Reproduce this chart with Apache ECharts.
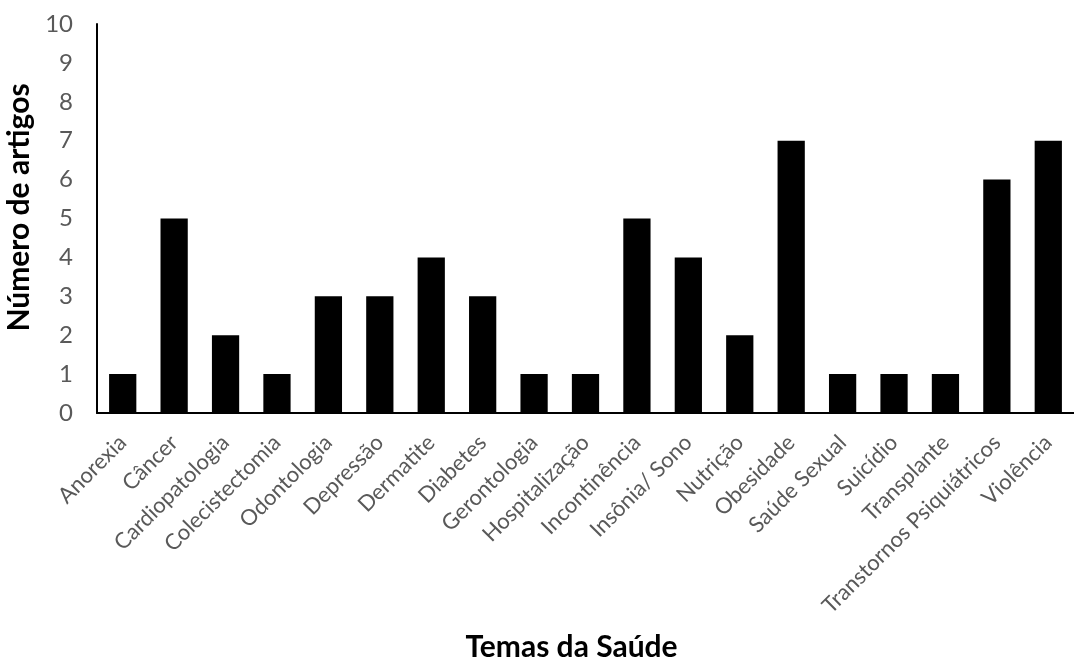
<!DOCTYPE html>
<html><head><meta charset="utf-8">
<script src="https://cdn.jsdelivr.net/npm/echarts@6/dist/echarts.min.js"></script>
<style>html,body{margin:0;padding:0;background:#fff;overflow:hidden}#c{width:1074px;height:660px}</style>
</head><body><div id="c"></div>
<script>
const categories = ["Anorexia","Câncer","Cardiopatologia","Colecistectomia","Odontologia","Depressão","Dermatite","Diabetes","Gerontologia","Hospitalização","Incontinência","Insônia/ Sono","Nutrição","Obesidade","Saúde Sexual","Suicídio","Transplante","Transtornos Psiquiátricos","Violência"];
const values = [1,5,2,1,3,3,4,3,1,1,5,4,2,7,1,1,1,6,7];
const yTicks = [0,1,2,3,4,5,6,7,8,9,10];
const FONT = "Lato, 'Open Sans', sans-serif";
const chart = echarts.init(document.getElementById('c'), null, {renderer:'canvas'});
chart.setOption({
  animation:false,
  grid:{left:97,right:0,top:24,bottom:247,containLabel:false,outerBoundsMode:'none'},
  xAxis:{type:'category',data:categories,
    axisLine:{lineStyle:{color:'#000',width:2}},
    axisTick:{show:false},
    axisLabel:{rotate:45,color:'#595959',fontSize:22,fontFamily:FONT,margin:26,interval:0},
    name:'Temas da Saúde',nameLocation:'middle',nameGap:219,
    nameTextStyle:{fontSize:30,fontWeight:'bold',color:'#000',fontFamily:FONT,padding:[0,28,0,0]}
  },
  yAxis:{type:'value',min:yTicks[0],max:yTicks[yTicks.length-1],interval:1,
    axisLine:{show:true,lineStyle:{color:'#000',width:2}},
    axisTick:{show:false},splitLine:{show:false},
    axisLabel:{color:'#595959',fontSize:24,fontFamily:FONT,margin:24},
    name:'Número de artigos',nameLocation:'middle',nameGap:55,
    nameTextStyle:{fontSize:30,fontWeight:'bold',color:'#000',fontFamily:FONT,padding:[0,0,0,22]}
  },
  series:[{type:'bar',data:values,barWidth:'53%',itemStyle:{color:'#000'}}]
});
</script></body></html>
